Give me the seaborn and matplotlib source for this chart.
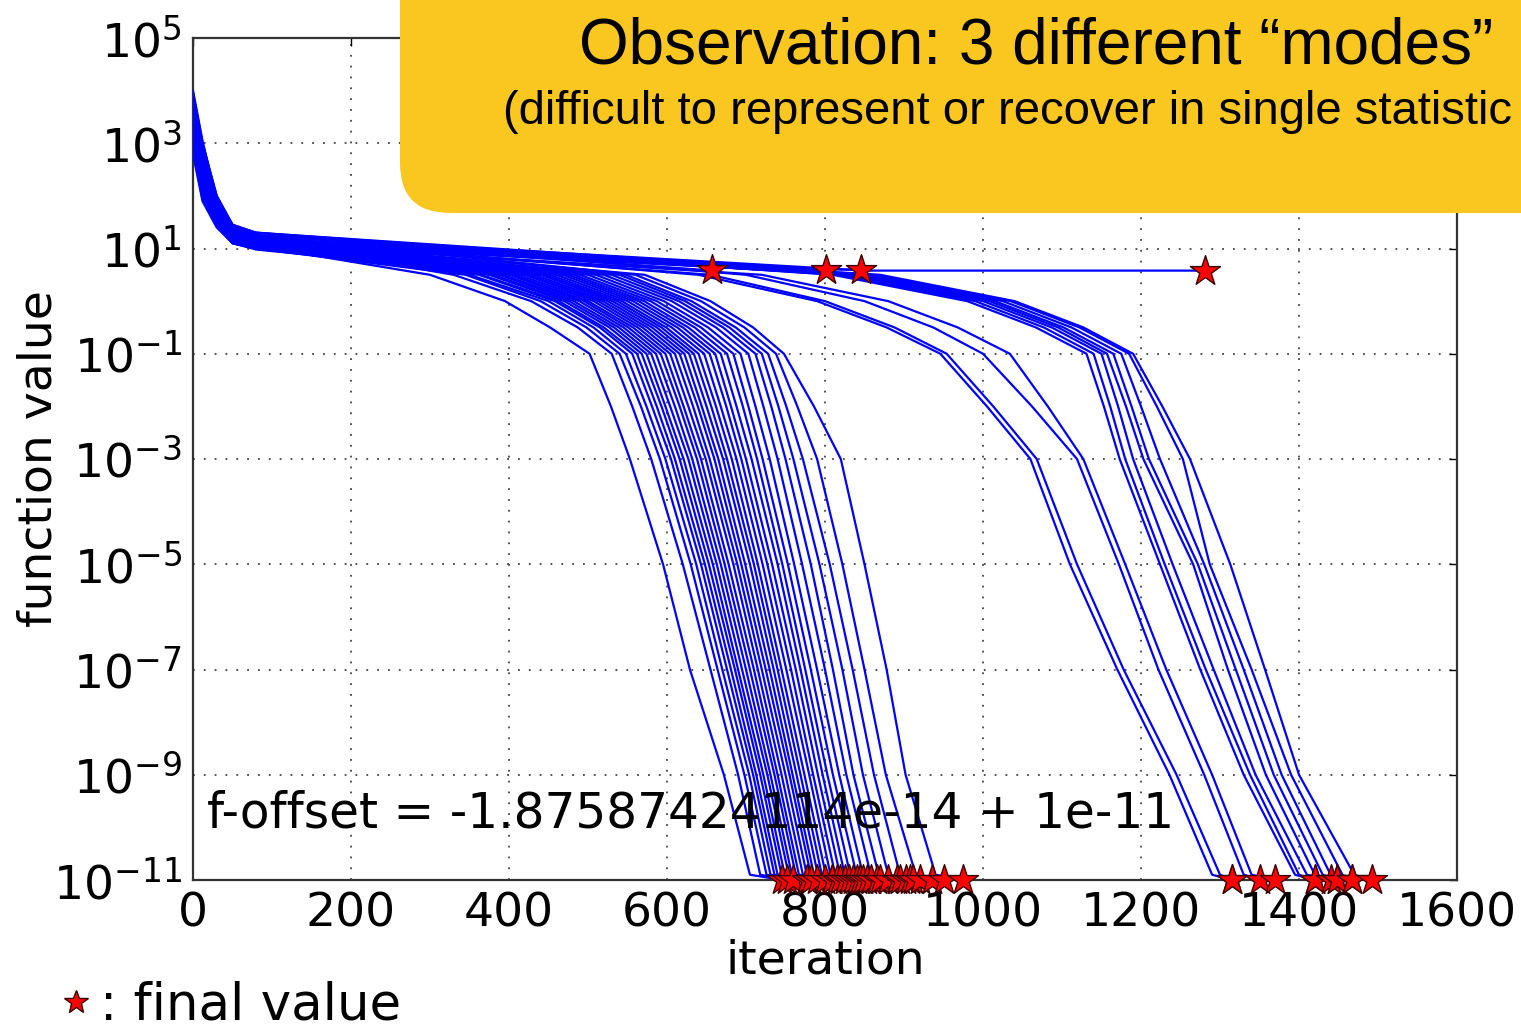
import numpy as np
import pandas as pd
import matplotlib
matplotlib.use("Agg")
import matplotlib.pyplot as plt
import seaborn as sns
from matplotlib.patches import FancyBboxPatch
from matplotlib.lines import Line2D
from matplotlib.transforms import IdentityTransform
from matplotlib.ticker import LogFormatterMathtext, NullLocator

# ---------------- data (log10 of function value) ----------------
HEAD_ITERS = [0, 12, 30, 50, 80]
DECLINE_LEVELS = [0.5, 0.0, -0.5, -1.0, -2.0, -3.0, -5.0, -7.0, -9.0, -10.9, -11.0]

# mode 1: early convergence (32 runs)
g1_start = [4.0, 3.9, 3.0, 3.5, 3.8, 2.9, 3.6, 3.2, 3.95, 3.4, 3.7, 2.8, 3.85, 3.25, 3.55, 3.1,
            3.75, 3.45, 3.65, 2.95, 3.9, 3.35, 3.6, 3.15, 3.8, 3.5, 3.05, 3.7, 3.4, 3.3, 3.95, 3.55]
g1_it12 = [3.05, 2.95, 2.1, 2.55, 2.85, 2.0, 2.65, 2.3, 3.0, 2.45, 2.75, 1.9, 2.9, 2.3, 2.6, 2.2,
           2.8, 2.5, 2.7, 2.05, 2.95, 2.4, 2.65, 2.25, 2.85, 2.55, 2.15, 2.75, 2.45, 2.35, 3.0, 2.6]
g1_it30 = [1.9, 1.95, 1.5, 1.7, 1.85, 1.45, 1.75, 1.6, 2.0, 1.65, 1.8, 1.4, 1.9, 1.6, 1.7, 1.55,
           1.85, 1.65, 1.75, 1.45, 1.95, 1.6, 1.75, 1.55, 1.85, 1.7, 1.5, 1.8, 1.65, 1.6, 2.0, 1.7]
g1_it50 = [1.3, 1.4, 1.15, 1.25, 1.35, 1.1, 1.3, 1.2, 1.45, 1.25, 1.35, 1.1, 1.4, 1.2, 1.3, 1.15,
           1.35, 1.25, 1.3, 1.1, 1.4, 1.2, 1.3, 1.15, 1.35, 1.25, 1.15, 1.35, 1.2, 1.25, 1.45, 1.3]
g1_it80 = [1.05, 1.15, 1.0, 1.1, 1.2, 1.0, 1.05, 1.1, 1.25, 1.05, 1.15, 0.98, 1.2, 1.05, 1.1, 1.0,
           1.15, 1.05, 1.1, 1.0, 1.2, 1.05, 1.15, 1.05, 1.2, 1.1, 1.0, 1.15, 1.05, 1.1, 1.25, 1.15]
g1_x_p05 = [300, 330, 345, 350, 362, 365, 375, 380, 388, 392, 400, 405, 412, 420, 425, 432,
            440, 445, 452, 460, 468, 475, 482, 490, 500, 510, 520, 530, 540, 548, 560, 572]
g1_x_p0 = [395, 428, 440, 450, 458, 463, 470, 476, 482, 489, 495, 500, 507, 513, 519, 525,
           531, 537, 543, 550, 557, 564, 571, 579, 587, 596, 606, 615, 623, 631, 643, 655]
g1_x_pm05 = [452, 487, 498, 507, 515, 520, 527, 533, 539, 545, 551, 557, 563, 569, 575, 581,
             587, 593, 599, 606, 613, 620, 627, 635, 643, 652, 662, 671, 679, 687, 698, 709]
g1_x_m1 = [502, 530, 540, 548, 556, 562, 568, 574, 580, 586, 592, 598, 604, 610, 616, 622,
           628, 634, 640, 647, 654, 661, 668, 676, 684, 693, 703, 712, 720, 728, 738, 748]
g1_x_m2 = [529, 556, 567, 574, 581, 587, 593, 598, 604, 610, 616, 621, 627, 633, 639, 644,
           650, 656, 662, 668, 675, 681, 688, 696, 703, 712, 722, 732, 741, 751, 765, 786]
g1_x_m3 = [553, 580, 591, 598, 605, 610, 616, 621, 627, 632, 638, 643, 649, 654, 660, 665,
           671, 676, 682, 688, 694, 700, 707, 714, 721, 730, 740, 750, 760, 772, 790, 820]
g1_x_m5 = [595, 620, 630, 637, 643, 648, 653, 658, 663, 668, 673, 678, 684, 689, 694, 699,
           705, 710, 715, 721, 727, 733, 740, 746, 753, 761, 771, 782, 793, 806, 822, 850]
g1_x_m7 = [629, 655, 664, 670, 676, 681, 686, 690, 695, 700, 705, 710, 715, 720, 725, 730,
           735, 740, 745, 751, 757, 763, 769, 775, 782, 790, 800, 810, 822, 835, 850, 878]
g1_x_m9 = [672, 690, 698, 704, 709, 713, 718, 722, 727, 731, 736, 740, 745, 750, 755, 759,
           764, 769, 774, 780, 785, 791, 797, 803, 810, 818, 827, 836, 848, 862, 877, 902]
g1_x_floor = [705, 718, 726, 731, 736, 740, 745, 749, 754, 758, 763, 767, 772, 777, 782, 786,
              791, 796, 801, 807, 813, 819, 825, 832, 840, 848, 858, 868, 880, 895, 915, 940]
g1_x_end = [746, 752, 760, 777, 777, 782, 790, 800, 809, 809, 815, 819, 825, 830, 835, 840,
            844, 848, 853, 858, 866, 870, 880, 891, 895, 903, 908, 911, 920, 935, 950, 975]

# mode 2: late convergence (12 runs)
g2_start = [3.7, 3.3, 3.9, 2.9, 3.6, 3.45, 3.8, 3.1, 3.55, 2.85, 3.75, 3.35]
g2_it12 = [2.75, 2.4, 2.95, 2.0, 2.65, 2.5, 2.85, 2.2, 2.6, 1.95, 2.8, 2.45]
g2_it30 = [1.85, 1.65, 1.95, 1.5, 1.8, 1.7, 1.9, 1.6, 1.75, 1.45, 1.85, 1.7]
g2_it50 = [1.35, 1.3, 1.45, 1.2, 1.4, 1.35, 1.45, 1.25, 1.35, 1.15, 1.4, 1.3]
g2_it80 = [1.2, 1.15, 1.3, 1.1, 1.25, 1.2, 1.3, 1.15, 1.2, 1.1, 1.25, 1.2]
g2_x_p05 = [640, 655, 700, 720, 810, 820, 830, 835, 845, 850, 860, 870]
g2_x_p0 = [790, 800, 850, 880, 980, 990, 1000, 1008, 1015, 1025, 1035, 1040]
g2_x_pm05 = [878, 888, 937, 968, 1067, 1077, 1087, 1095, 1102, 1112, 1122, 1127]
g2_x_m1 = [946, 954, 1000, 1034, 1131, 1140, 1150, 1157, 1165, 1175, 1185, 1190]
g2_x_m2 = [1005, 1013, 1062, 1082, 1153, 1161, 1171, 1181, 1188, 1200, 1220, 1227]
g2_x_m3 = [1060, 1068, 1119, 1127, 1173, 1180, 1190, 1203, 1210, 1224, 1253, 1262]
g2_x_m5 = [1110, 1119, 1172, 1180, 1224, 1230, 1240, 1266, 1272, 1280, 1287, 1313]
g2_x_m7 = [1170, 1178, 1222, 1232, 1275, 1282, 1292, 1310, 1320, 1330, 1340, 1357]
g2_x_m9 = [1236, 1245, 1280, 1290, 1330, 1338, 1345, 1358, 1368, 1378, 1390, 1400]
g2_x_floor = [1290, 1300, 1330, 1340, 1395, 1400, 1410, 1420, 1430, 1440, 1455, 1470]
g2_x_end = [1315, 1315, 1351, 1370, 1420, 1420, 1441, 1448, 1448, 1467, 1467, 1492]

# mode 3: stagnating runs (4 runs)
g3_start = [3.5, 3.85, 3.15, 3.65]
g3_it12 = [2.55, 2.9, 2.25, 2.7]
g3_it30 = [1.7, 1.9, 1.55, 1.8]
g3_it50 = [1.3, 1.4, 1.2, 1.35]
g3_it80 = [1.2, 1.3, 1.1, 1.25]
g3_x_reach = [640, 780, 820, 850]
g3_level = [0.6, 0.6, 0.6, 0.58]
g3_x_end = [657, 801, 845, 1281]

OFFSET_TEXT = "f-offset = -1.87587424114e-14 + 1e-11"
BOX_TITLE = "Observation: 3 different \u201cmodes\u201d"
BOX_SUB = "(difficult to represent or recover in single statistic"

# ---------------- build long table ----------------
rows = []
run_id = 0


def add_run(xs, ls):
    global run_id
    for x, l in zip(xs, ls):
        rows.append((run_id, x, 10.0 ** l))
    run_id += 1


for i in range(len(g1_x_m1)):
    xs = HEAD_ITERS + [g1_x_p05[i], g1_x_p0[i], g1_x_pm05[i], g1_x_m1[i], g1_x_m2[i], g1_x_m3[i],
                       g1_x_m5[i], g1_x_m7[i], g1_x_m9[i], g1_x_floor[i], g1_x_end[i]]
    ls = [g1_start[i], g1_it12[i], g1_it30[i], g1_it50[i], g1_it80[i]] + DECLINE_LEVELS
    add_run(xs, ls)
for i in range(len(g2_x_m1)):
    xs = HEAD_ITERS + [g2_x_p05[i], g2_x_p0[i], g2_x_pm05[i], g2_x_m1[i], g2_x_m2[i], g2_x_m3[i],
                       g2_x_m5[i], g2_x_m7[i], g2_x_m9[i], g2_x_floor[i], g2_x_end[i]]
    ls = [g2_start[i], g2_it12[i], g2_it30[i], g2_it50[i], g2_it80[i]] + DECLINE_LEVELS
    add_run(xs, ls)
for i in range(len(g3_x_end)):
    xs = HEAD_ITERS + [g3_x_reach[i], g3_x_end[i]]
    ls = [g3_start[i], g3_it12[i], g3_it30[i], g3_it50[i], g3_it80[i], g3_level[i], g3_level[i]]
    add_run(xs, ls)

df = pd.DataFrame(rows, columns=["run", "iteration", "f"])

star_x = g1_x_end + g2_x_end + g3_x_end
star_y = [10.0 ** DECLINE_LEVELS[-1]] * (len(g1_x_end) + len(g2_x_end)) + [10.0 ** v for v in g3_level]
stars = pd.DataFrame({"iteration": star_x, "f": star_y})

# ---------------- plot ----------------
sns.set_style("white")
plt.rcParams["font.family"] = ["DejaVu Sans"]
plt.rcParams["mathtext.default"] = "regular"
plt.rcParams["axes.unicode_minus"] = False
plt.rcParams["text.color"] = "black"
plt.rcParams["axes.labelcolor"] = "black"

W, H = 1521, 1028
fig = plt.figure(figsize=(W / 100, H / 100), dpi=100)
ax = fig.add_axes([193 / W, 1 - 880 / H, (1457 - 193) / W, (880 - 38) / H])
ax.set_yscale("log")

sns.lineplot(data=df, x="iteration", y="f", units="run", estimator=None, sort=False,
             color="#0000ff", lw=1.6, ax=ax, legend=False, zorder=3)
sns.scatterplot(data=stars, x="iteration", y="f", marker="*", s=520, color="#ff0000",
                edgecolor="#3a0000", linewidth=1.0, ax=ax, zorder=6, clip_on=False, legend=False)

ax.set_xlim(0, 1600)
ax.set_ylim(1e-11, 1e5)
ax.set_xticks(list(range(0, 1601, 200)))
ax.set_yticks([10.0 ** k for k in range(-11, 6, 2)])
ax.yaxis.set_minor_locator(NullLocator())
ax.yaxis.set_major_formatter(LogFormatterMathtext())
ax.tick_params(direction="in", length=6, width=1, labelsize=34, pad=8,
               top=True, right=True, colors="black")
ax.grid(True, which="major", linestyle=(0, (1, 5)), color="#444444", lw=1.3)
for s in ax.spines.values():
    s.set_color("#333333")
    s.set_linewidth(1.6)

ax.set_xlabel("iteration", fontsize=34, labelpad=2)
ax.set_ylabel("function value", fontsize=34)
ax.yaxis.set_label_coords((62 - 193) / (1457 - 193), 0.5)

ax.text(18, 10 ** -10.0, OFFSET_TEXT, fontsize=35, va="baseline", ha="left", zorder=10)

# yellow annotation box (pixel coordinates)
box = FancyBboxPatch((400, H - 213), 1250, 320,
                     boxstyle="round,pad=0,rounding_size=50",
                     transform=IdentityTransform(), facecolor="#F9C71F",
                     edgecolor="none", zorder=20)
fig.add_artist(box)
fig.text(1036 / W, 1 - 47 / H, BOX_TITLE, fontsize=46, family="Liberation Sans",
         ha="center", va="center", zorder=21)
fig.text(503 / W, 1 - 112 / H, BOX_SUB, fontsize=34, family="Liberation Sans",
         ha="left", va="center", zorder=21)

# bottom legend note
fig.add_artist(Line2D([76 / W], [1 - 1002 / H], marker="*", markersize=18, linestyle="none",
                      markerfacecolor="#ff0000", markeredgecolor="#3a0000",
                      transform=fig.transFigure))
fig.text(100 / W, (H - 1020) / H, ": final value", fontsize=37, va="baseline", ha="left")

fig.savefig("out.png", dpi=100)
